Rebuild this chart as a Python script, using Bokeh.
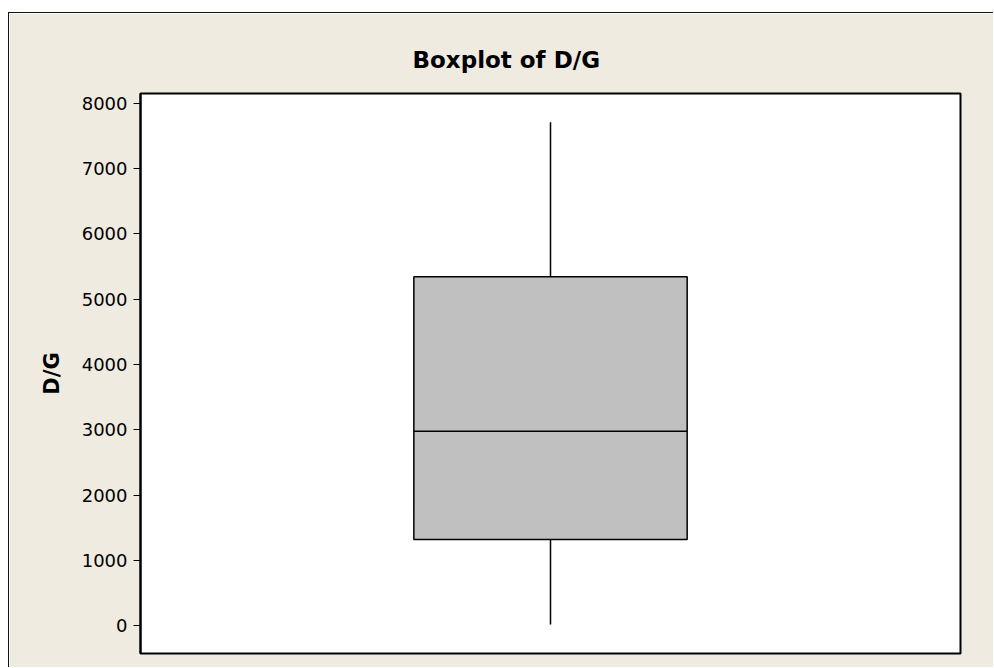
from bokeh.plotting import figure
from bokeh.models import Range1d, FactorRange, ColumnDataSource
from bokeh.embed import file_html
from bokeh.resources import INLINE

# Data
categories = ["D/G"]
q1 = [1318]
median = [2978]
q3 = [5344]
whisker_low = [15]
whisker_high = [7713]
y_ticks = [0, 1000, 2000, 3000, 4000, 5000, 6000, 7000, 8000]

BEIGE = "#EFEBE1"

p = figure(width=985, height=655, output_backend="svg", toolbar_location=None,
           x_range=FactorRange(factors=categories, range_padding=0),
           y_range=Range1d(-429, 8153),
           min_border_left=131, min_border_right=34, min_border_top=80,
           min_border_bottom=15)
p.styles = {"border-left": "1px solid #111", "border-top": "1px solid #111",
            "margin-top": "12px", "margin-left": "8px"}

p.background_fill_color = "white"
p.border_fill_color = BEIGE
p.outline_line_color = "black"
p.outline_line_width = 2
p.grid.visible = False

src = ColumnDataSource(dict(x=categories, q1=q1, med=median, q3=q3,
                            lo=whisker_low, hi=whisker_high))

p.segment(x0="x", y0="lo", x1="x", y1="q1", source=src, line_color="black", line_width=1.5)
p.segment(x0="x", y0="q3", x1="x", y1="hi", source=src, line_color="black", line_width=1.5)
p.vbar(x="x", width=1/3, bottom="q1", top="q3", source=src,
       fill_color="#C0C0C0", line_color="black", line_width=1.5)
p.vbar(x="x", width=1/3, bottom="med", top="med", source=src,
       fill_alpha=0, line_color="black", line_width=1.5)

p.xaxis.visible = False

ya = p.yaxis[0]
ya.ticker = y_ticks
ya.axis_label = "D/G"
ya.axis_label_text_font = "DejaVu Sans"
ya.axis_label_text_font_style = "bold"
ya.axis_label_text_font_size = "21px"
ya.axis_label_text_color = "black"
ya.axis_label_standoff = 15
ya.major_label_text_font = "DejaVu Sans"
ya.major_label_text_font_size = "18px"
ya.major_label_text_color = "black"
ya.major_label_standoff = 6
ya.major_tick_out = 7
ya.major_tick_in = 0
ya.major_tick_line_color = "black"
ya.minor_tick_line_color = None
ya.axis_line_color = "black"
ya.axis_line_width = 2

p.title.text = "Boxplot of D/G"
p.title.text_font = "DejaVu Sans"
p.title.text_font_style = "bold"
p.title.text_font_size = "23px"
p.title.text_color = "black"
p.title.align = "left"
p.title.offset = 272
p.title.standoff = 42

open("out.html", "w").write(file_html(p, INLINE))
